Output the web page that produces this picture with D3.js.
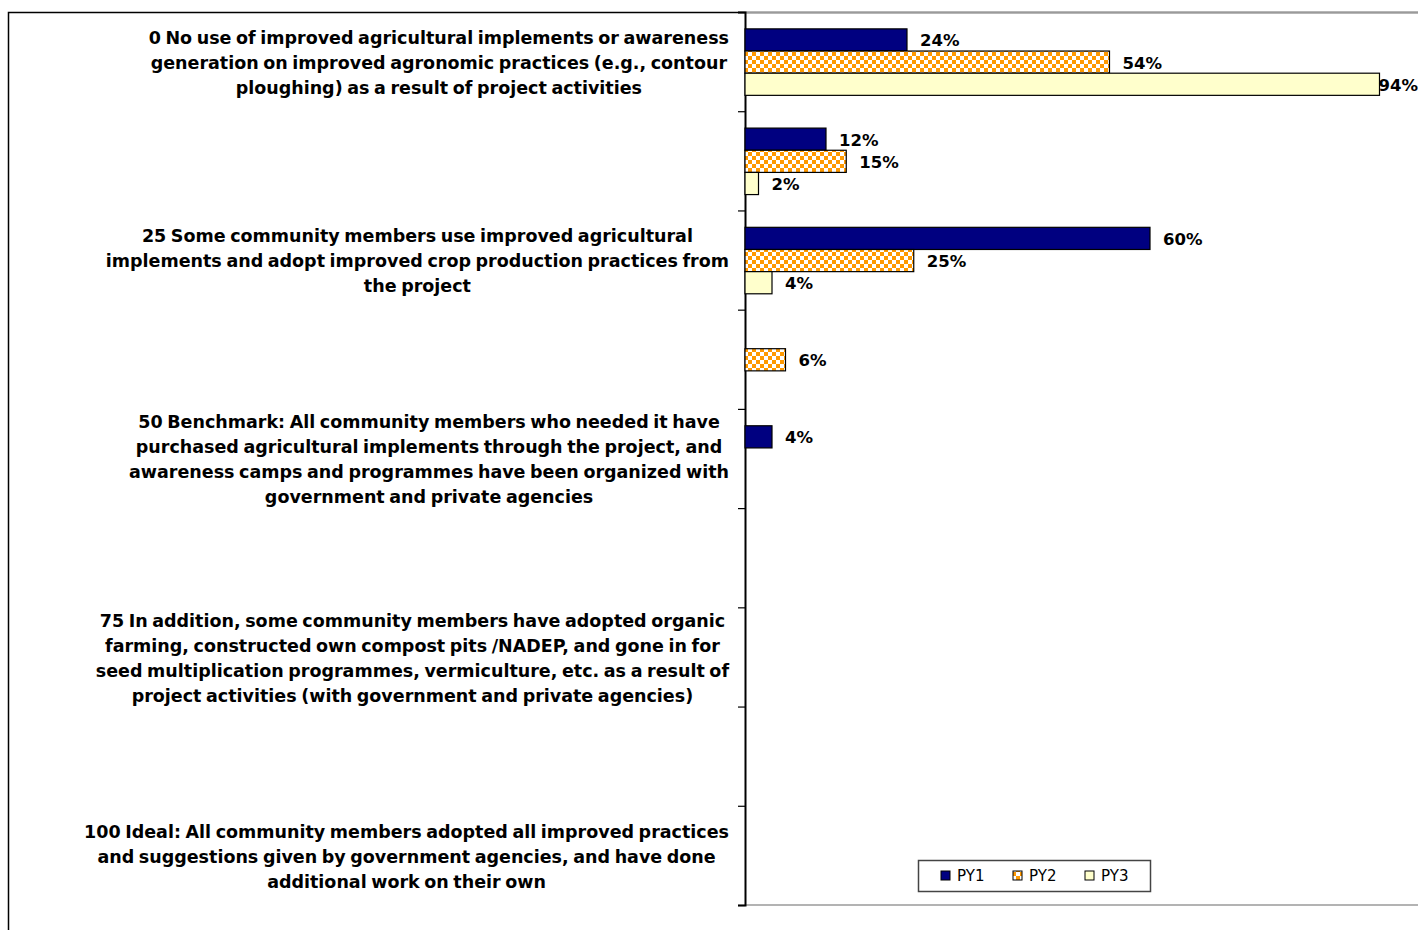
<!DOCTYPE html>
<html>
<head>
<meta charset="utf-8">
<script src="https://cdn.jsdelivr.net/npm/d3@7"></script>
<style>
  html, body { margin: 0; padding: 0; background: #fff; }
  svg { display: block; }
  text { font-family: "DejaVu Sans", "Open Sans", sans-serif; }
</style>
</head>
<body>
<svg id="chart" width="1418" height="930"></svg>
<script>
// Scale categories (top to bottom); unlabeled rows are the intermediate steps
const categories = ["0", "12.5", "25", "37.5", "50", "62.5", "75", "87.5", "100"];

const categoryLabels = [
  ["0 No use of improved agricultural implements or awareness",
   "generation on improved agronomic practices (e.g., contour",
   "ploughing) as a result of project activities"],
  [],
  ["25 Some community members use improved agricultural",
   "implements and adopt improved crop production practices from",
   "the project"],
  [],
  ["50 Benchmark: All community members who needed it have",
   "purchased agricultural implements through the project, and",
   "awareness camps and programmes have been organized with",
   "government and private agencies"],
  [],
  ["75 In addition, some community members have adopted organic",
   "farming, constructed own compost pits /NADEP, and gone in for",
   "seed multiplication programmes, vermiculture, etc. as a result of",
   "project activities (with government and private agencies)"],
  [],
  ["100 Ideal: All community members adopted all improved practices",
   "and suggestions given by government agencies, and have done",
   "additional work on their own"]
];

const seriesNames = ["PY1", "PY2", "PY3"];

// Percent of respondents per category (null = no bar)
const py1 = [24, 12, 60, null, 4, null, null, null, null];
const py2 = [54, 15, 25, 6, null, null, null, null, null];
const py3 = [94, 2, 4, null, null, null, null, null, null];

const seriesValues = [py1, py2, py3];

const svg = d3.select("#chart");
const W = 1418, H = 930;

const plot = { left: 745, top: 12, right: 1420, bottom: 905 };

const defs = svg.append("defs");
const pat = defs.append("pattern")
  .attr("id", "checker")
  .attr("width", 8).attr("height", 8)
  .attr("patternUnits", "userSpaceOnUse");
pat.append("rect").attr("width", 8).attr("height", 8).attr("fill", "#FF9900");
pat.append("rect").attr("x", 0).attr("y", 0).attr("width", 4).attr("height", 4).attr("fill", "#fff");
pat.append("rect").attr("x", 4).attr("y", 4).attr("width", 4).attr("height", 4).attr("fill", "#fff");

const fills = ["#000080", "url(#checker)", "#FFFFCC"];

// Outer chart frame
svg.append("path")
  .attr("d", `M8.5,${H} V12.5 H${W}`)
  .attr("fill", "none").attr("stroke", "#000").attr("stroke-width", 1.5);

// Plot area frame (top/bottom in gray)
svg.append("line")
  .attr("x1", plot.left).attr("x2", W).attr("y1", plot.top + 0.5).attr("y2", plot.top + 0.5)
  .attr("stroke", "#9a9a9a").attr("stroke-width", 1.5);
svg.append("line")
  .attr("x1", plot.left).attr("x2", W).attr("y1", plot.bottom).attr("y2", plot.bottom)
  .attr("stroke", "#9a9a9a").attr("stroke-width", 1.5);

const y = d3.scaleBand()
  .domain(categories)
  .range([plot.top, plot.bottom])
  .paddingInner(0.33)
  .paddingOuter(0.165);

const ySeries = d3.scaleBand()
  .domain(seriesNames)
  .range([0, y.bandwidth()]);

const x = d3.scaleLinear().domain([0, 100]).range([plot.left, plot.right]);

// Category axis with ticks at band boundaries
const yEdge = d3.scaleLinear().domain([0, categories.length]).range([plot.top, plot.bottom]);
const axis = d3.axisLeft(yEdge)
  .tickValues(d3.range(0, categories.length + 1))
  .tickSize(7)
  .tickFormat("");
const axisG = svg.append("g").attr("transform", `translate(${plot.left},0)`).call(axis);
axisG.select(".domain").attr("stroke", "#000").attr("stroke-width", 2);
axisG.selectAll(".tick line").attr("stroke", "#000").attr("stroke-width", 1.2);

// Bars
const barData = [];
seriesValues.forEach((vals, si) => {
  vals.forEach((v, ci) => {
    if (v !== null) barData.push({ cat: categories[ci], series: seriesNames[si], si, value: v });
  });
});

svg.append("g").selectAll("rect")
  .data(barData)
  .join("rect")
  .attr("x", x(0))
  .attr("y", d => y(d.cat) + ySeries(d.series) + 0.5)
  .attr("width", d => x(d.value) - x(0))
  .attr("height", ySeries.bandwidth())
  .attr("fill", d => fills[d.si])
  .attr("stroke", "#000")
  .attr("stroke-width", 1.2);

// Value labels, kept inside the chart's right edge
const labels = svg.append("g").selectAll("text")
  .data(barData)
  .join("text")
  .attr("y", d => y(d.cat) + ySeries(d.series) + ySeries.bandwidth() / 2 + 1)
  .attr("dy", "0.36em")
  .attr("font-size", 16.5)
  .attr("font-weight", 700)
  .attr("fill", "#000")
  .text(d => d.value + "%");
labels.each(function(d) {
  const w = this.getComputedTextLength();
  d3.select(this).attr("x", Math.min(x(d.value) + 13, W - w));
});

// Category labels: right-aligned block, lines centered in it
const lineH = 25;
const labelRight = 729;
categoryLabels.forEach((lines, ci) => {
  if (!lines.length) return;
  const g = svg.append("g");
  const cy = y(categories[ci]) + y.bandwidth() / 2 + 1;
  const texts = g.selectAll("text")
    .data(lines)
    .join("text")
    .attr("y", (d, i) => cy + (i - (lines.length - 1) / 2) * lineH)
    .attr("dy", "0.36em")
    .attr("text-anchor", "middle")
    .attr("font-size", 17.5)
    .attr("font-weight", 700)
    .attr("word-spacing", -1.5)
    .attr("fill", "#000")
    .text(d => d);
  let maxW = 0;
  texts.each(function() { maxW = Math.max(maxW, this.getComputedTextLength()); });
  texts.attr("x", labelRight - maxW / 2);
});

// Legend
const legend = svg.append("g");
legend.append("rect")
  .attr("x", 918.5).attr("y", 860.5).attr("width", 232).attr("height", 31)
  .attr("fill", "#fff").attr("stroke", "#444").attr("stroke-width", 1.5);
const legendX = [941, 1013, 1085];
seriesNames.forEach((s, i) => {
  legend.append("rect")
    .attr("x", legendX[i]).attr("y", 871).attr("width", 9).attr("height", 9)
    .attr("fill", fills[i]).attr("stroke", "#000").attr("stroke-width", 1);
  legend.append("text")
    .attr("x", legendX[i] + 16).attr("y", 876)
    .attr("dy", "0.36em")
    .attr("font-size", 15)
    .attr("fill", "#000")
    .text(s);
});
</script>
</body>
</html>
